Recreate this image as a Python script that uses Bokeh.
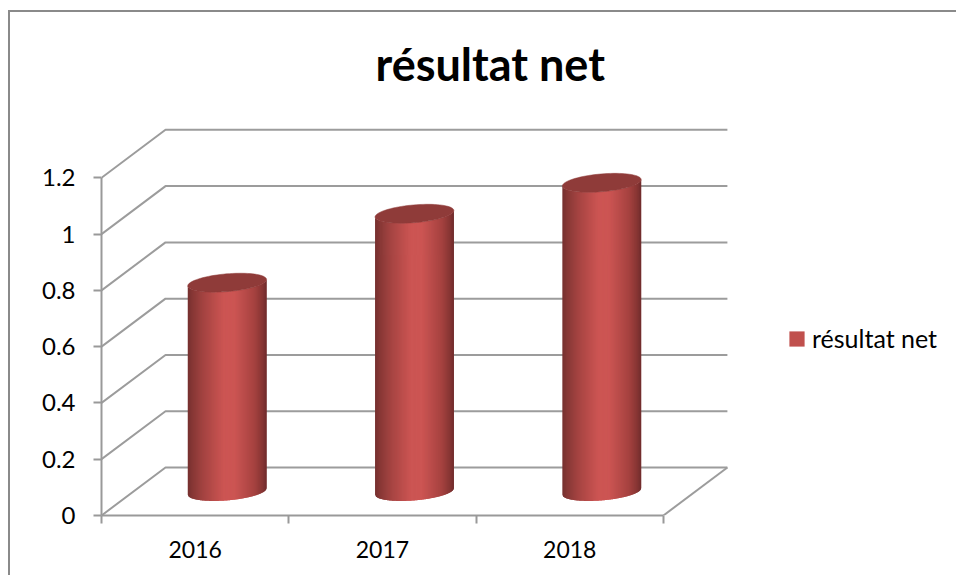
import numpy as np
from bokeh.plotting import figure
from bokeh.models import FixedTicker, Range1d, Legend, LegendItem
from bokeh.embed import file_html
from bokeh.resources import INLINE

categories = ["2016", "2017", "2018"]
values = [0.742, 0.987, 1.097]
series_name = "résultat net"
y_ticks = [0, 0.2, 0.4, 0.6, 0.8, 1.0, 1.2]
y_labels = ["0", "0.2", "0.4", "0.6", "0.8", "1", "1.2"]

FONT = "Lato"
PX_X = 187.3     # pixels per category
PX_Y = 281.4     # pixels per unit
DX = 64 / PX_X   # 3D depth
DY = 48 / PX_Y
A = 39.4 / PX_X  # cylinder half width
TILT = 3.2 / PX_Y
B = 8.9 / PX_Y

W, H = 948, 565
LEFT, TOP, BOTTOM = 91, 90, 62
frame_w = W - LEFT
frame_h = H - TOP - BOTTOM

p = figure(width=W, height=H, output_backend="svg", toolbar_location=None,
           x_range=Range1d(0, frame_w / PX_X), y_range=Range1d(0, frame_h / PX_Y),
           min_border_left=LEFT, min_border_top=TOP, min_border_bottom=BOTTOM, min_border_right=0,
           title=series_name)
p.styles = {"border-left": "2px solid #8a8a8a", "border-top": "2px solid #8a8a8a",
            "margin-top": "10px", "margin-left": "8px"}
p.outline_line_color = None
p.grid.visible = False
p.background_fill_color = "white"

p.title.align = "left"
p.title.offset = 274
p.title.standoff = 24
p.title.text_font = FONT
p.title.text_font_size = "45px"
p.title.text_font_style = "bold"
p.title.text_color = "black"

n = len(categories)
xa = p.xaxis[0]
xa.ticker = FixedTicker(ticks=[i + 0.5 for i in range(n)], minor_ticks=list(range(n + 1)))
xa.major_label_overrides = {i + 0.5: c for i, c in enumerate(categories)}
xa.bounds = (0, n)
xa.major_tick_line_color = None
xa.major_tick_out = 0
xa.major_tick_in = 0
xa.minor_tick_out = 8
xa.minor_tick_in = 0
xa.minor_tick_line_color = "#999999"
xa.minor_tick_line_width = 2
xa.axis_line_color = "#999999"
xa.axis_line_width = 2
xa.major_label_standoff = 17
xa.major_label_text_font = FONT
xa.major_label_text_font_size = "23px"
xa.major_label_text_color = "black"

ya = p.yaxis[0]
ya.ticker = FixedTicker(ticks=y_ticks, minor_ticks=[])
ya.major_label_overrides = dict(zip(y_ticks, y_labels))
ya.bounds = (0, y_ticks[-1])
ya.major_tick_out = 8
ya.major_tick_in = 0
ya.major_tick_line_color = "#999999"
ya.major_tick_line_width = 2
ya.minor_tick_line_color = None
ya.axis_line_color = "#999999"
ya.axis_line_width = 2
ya.major_label_standoff = 18
ya.major_label_text_font = FONT
ya.major_label_text_font_size = "24px"
ya.major_label_text_color = "black"

# walls and floor
xs, ys = [], []
for v in y_ticks:
    xs.append([0, DX, n + DX])
    ys.append([v, v + DY, v + DY])
xs.append([n, n + DX])
ys.append([0, DY])
p.multi_line(xs, ys, line_color="#9c9c9c", line_width=2)

# cylinders
stops = [0, 0.06, 0.2, 0.45, 0.6, 0.85, 0.95, 1]
r_s = [118, 135, 165, 204, 204, 165, 135, 112]
g_s = [48, 56, 68, 85, 85, 66, 54, 44]
b_s = [47, 54, 66, 83, 83, 64, 52, 44]
N = 79
for i, v in enumerate(values):
    cx = i + 0.5 + DX / 2
    base = DY / 2
    edges = np.linspace(-1, 1, N + 1)
    sx, sy, colors = [], [], []
    for j in range(N):
        u = np.linspace(edges[j], edges[min(j + 2, N)], 4)
        arc = TILT * u - B * np.sqrt(np.clip(1 - u ** 2, 0, 1))
        bx = cx + A * u
        sx.append(list(bx) + list(bx[::-1]))
        sy.append(list(base + arc) + list((base + v + arc)[::-1]))
        t = (j + 0.5) / N
        colors.append("#%02x%02x%02x" % (int(np.interp(t, stops, r_s)),
                                         int(np.interp(t, stops, g_s)),
                                         int(np.interp(t, stops, b_s))))
    p.patches(sx, sy, fill_color=colors, line_color=None)
    th = np.linspace(0, 2 * np.pi, 80)
    p.patch(cx + A * np.cos(th), base + v + TILT * np.cos(th) + B * np.sin(th),
            fill_color="#8f3b39", line_color="#8f3b39", line_width=0.5)

# legend: the swatch comes from a zero-sized quad
swatch = p.quad(left=[0], right=[0], top=[0], bottom=[0], fill_color="#c0504d", line_color=None)
legend = Legend(items=[LegendItem(label=series_name, renderers=[swatch])],
                location=(686, 162), orientation="vertical",
                border_line_color=None, background_fill_alpha=0,
                padding=0, margin=0, glyph_width=19, glyph_height=19, label_standoff=6,
                label_text_font=FONT, label_text_font_size="25px", label_text_color="black")
p.add_layout(legend, "center")

open("out.html", "w").write(file_html(p, INLINE))
